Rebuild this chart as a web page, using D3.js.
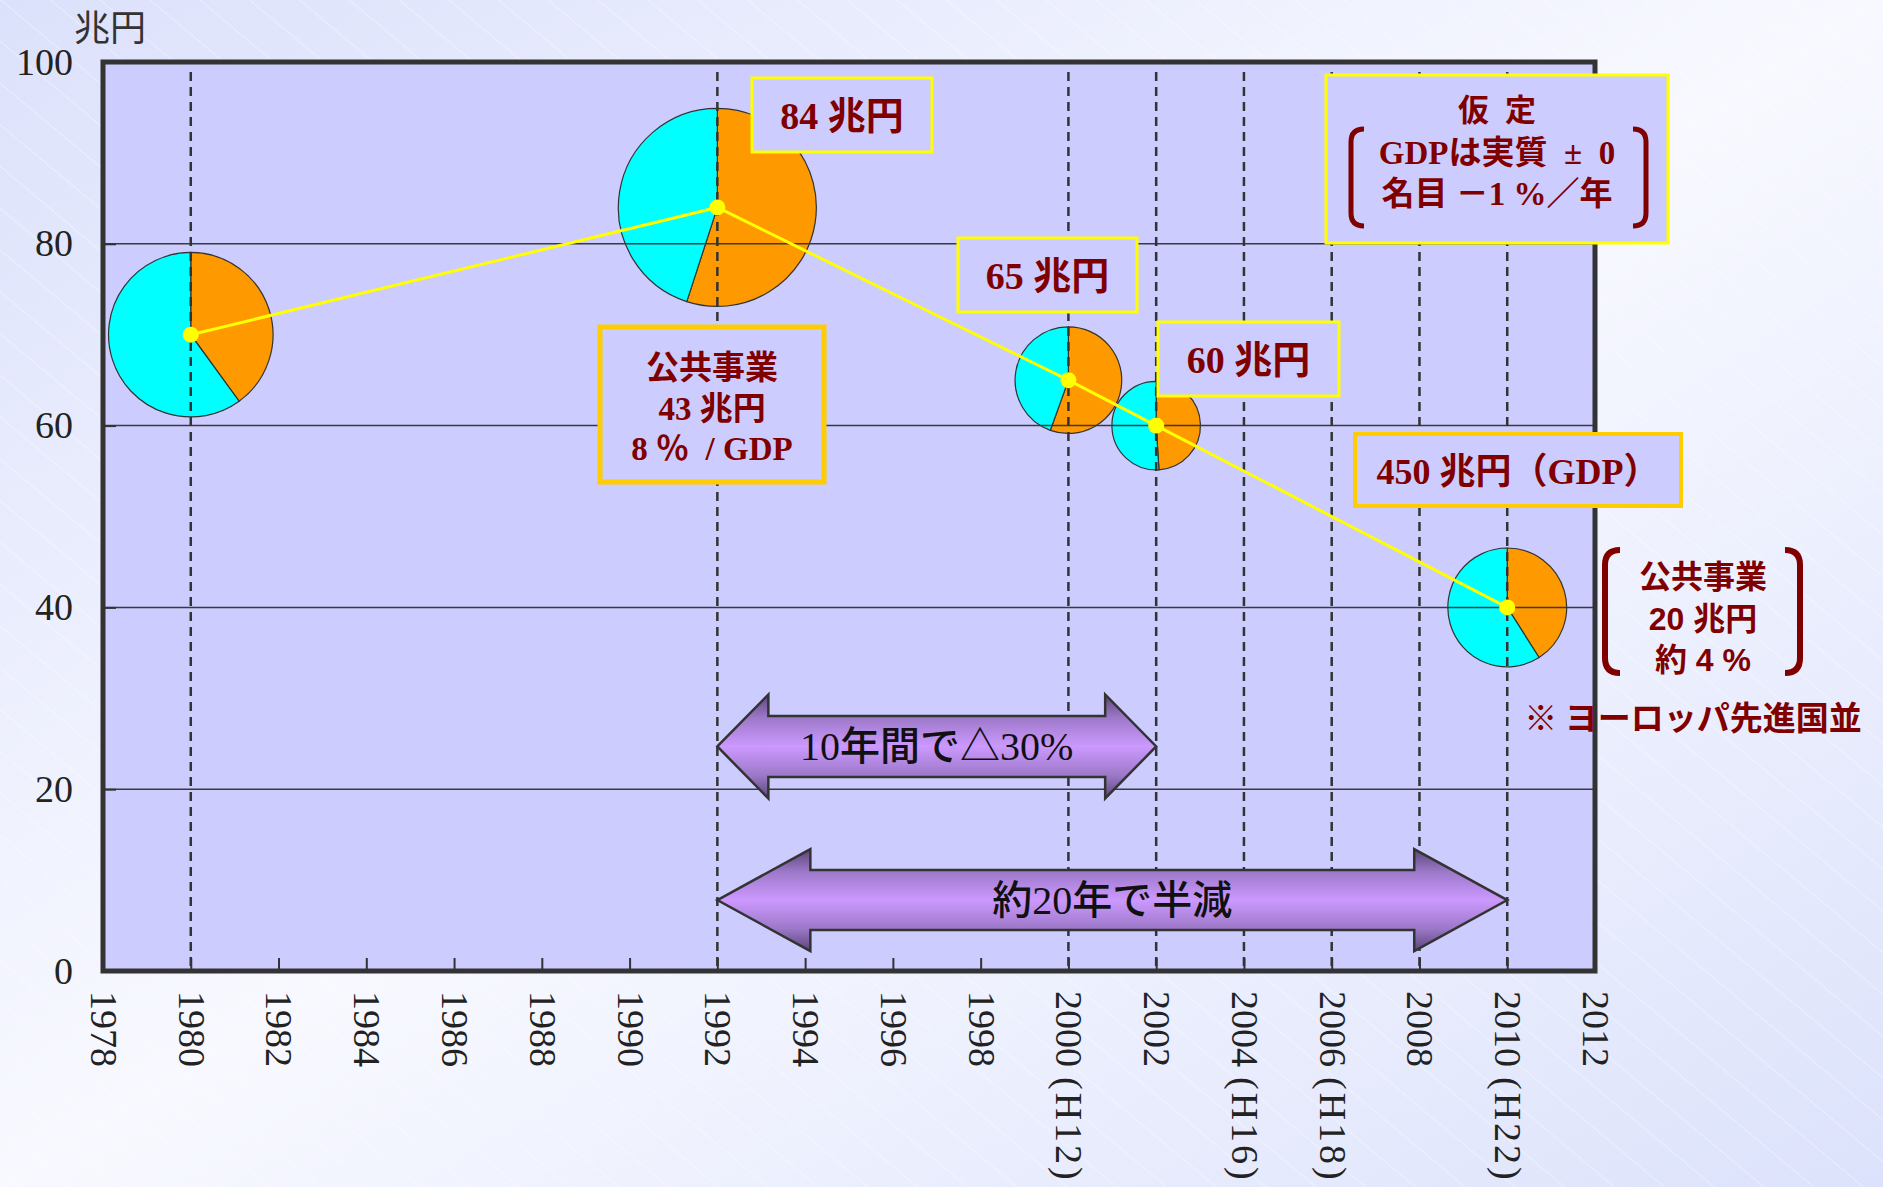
<html>
<head>
<meta charset="utf-8">
<title>公共事業費の推移</title>
<style>
  body { margin: 0; }
  svg { display: block; }
  .serif { font-family: "Liberation Serif", "Noto Sans CJK JP", serif; }
  .gothic { font-family: "Noto Sans CJK JP", sans-serif; }
  .sans { font-family: "Liberation Sans", "Noto Sans CJK JP", sans-serif; }
</style>
<script src="https://d3js.org/d3.v7.min.js"></script>
</head>
<body>
<svg id="chart"></svg>
<script>
// ---- data ----
let years = [1980, 1992, 2000, 2002, 2010];
let totals = [70, 84, 65, 60, 40];            // 兆円
let publicShare = [0.40, 0.55, 0.555, 0.49, 0.41]; // orange slice (公共事業)
let pieSize = [69, 100, 29, 20, 36];           // relative pie area
let valueLabelYears = [1992, 2000, 2002];

let xTicks = [1978, 1980, 1982, 1984, 1986, 1988, 1990, 1992, 1994, 1996,
              1998, 2000, 2002, 2004, 2006, 2008, 2010, 2012];
let eraYears = [2000, 2004, 2006, 2010];
let eraLabels = ['H12', 'H16', 'H18', 'H22'];
let yTicks = [0, 20, 40, 60, 80, 100];
let gridValues = [20, 40, 60, 80];
let guideYears = [1980, 1992, 2000, 2002, 2004, 2006, 2008, 2010];

let arrowFrom = [1992, 1992];
let arrowTo = [2002, 2010];
let arrowLevel = [24.7, 7.8];
let arrowText = ['10年間で△30%', '約20年で半減'];

// ---- layout ----
let W = 1883, H = 1187;
let plotLeft = 103, plotTop = 62, plotW = 1492, plotH = 909;

let svg = d3.select('#chart').attr('width', W).attr('height', H);
let defs = svg.append('defs');

let bg = defs.append('linearGradient').attr('id', 'bg')
  .attr('x1', 0).attr('y1', 0).attr('x2', 1).attr('y2', 1);
bg.append('stop').attr('offset', 0).attr('stop-color', '#dce1fb');
bg.append('stop').attr('offset', 0.5).attr('stop-color', '#f8f9ff');
bg.append('stop').attr('offset', 1).attr('stop-color', '#dce2fb');

let hatch = defs.append('pattern').attr('id', 'hatch')
  .attr('width', 32).attr('height', 32).attr('patternUnits', 'userSpaceOnUse')
  .attr('patternTransform', 'rotate(-50)');
hatch.append('line').attr('x1', 0).attr('y1', 0).attr('x2', 0).attr('y2', 32)
  .attr('stroke', '#ffffff').attr('stroke-width', 1.2).attr('opacity', 0.6);

let arrowGrad = defs.append('linearGradient').attr('id', 'arrowGrad')
  .attr('x1', 0).attr('y1', 0).attr('x2', 0).attr('y2', 1);
[[0, '#5a4678'], [0.22, '#9c78c8'], [0.5, '#cc99ff'], [0.78, '#9c78c8'], [1, '#5a4678']]
  .forEach(s => arrowGrad.append('stop').attr('offset', s[0]).attr('stop-color', s[1]));

svg.append('rect').attr('width', W).attr('height', H).attr('fill', 'url(#bg)');
svg.append('rect').attr('width', W).attr('height', H).attr('fill', 'url(#hatch)');

let x = d3.scaleLinear().domain([1978, 2012]).range([plotLeft, plotLeft + plotW]);
let y = d3.scaleLinear().domain([0, 100]).range([plotTop + plotH, plotTop]);
let r = d3.scaleSqrt().domain([0, 100]).range([0, 99]);

// plot background
svg.append('rect')
  .attr('x', plotLeft).attr('y', plotTop).attr('width', plotW).attr('height', plotH)
  .attr('fill', '#ccccff');

// pies
let pie = d3.pie().sort(null).value(d => d);
let pieColors = ['#ff9900', '#00ffff'];
years.forEach((yr, i) => {
  let arc = d3.arc().innerRadius(0).outerRadius(r(pieSize[i]));
  svg.append('g')
    .attr('transform', `translate(${x(yr)},${y(totals[i])})`)
    .selectAll('path')
    .data(pie([publicShare[i], 1 - publicShare[i]]))
    .join('path')
    .attr('d', arc)
    .attr('fill', (d, j) => pieColors[j])
    .attr('stroke', '#333')
    .attr('stroke-width', 1.2);
});

// gridlines
svg.append('g').selectAll('line').data(gridValues).join('line')
  .attr('x1', plotLeft).attr('x2', plotLeft + plotW)
  .attr('y1', d => y(d)).attr('y2', d => y(d))
  .attr('stroke', '#3a3a3a').attr('stroke-width', 1.5);

// dashed guides
svg.append('g').selectAll('line').data(guideYears).join('line')
  .attr('x1', d => x(d)).attr('x2', d => x(d))
  .attr('y1', plotTop + 10).attr('y2', plotTop + plotH)
  .attr('stroke', '#333').attr('stroke-width', 2.5)
  .attr('stroke-dasharray', '9,6');

// axes
let xAxis = svg.append('g')
  .attr('transform', `translate(0,${plotTop + plotH})`)
  .call(d3.axisBottom(x).tickValues(xTicks).tickSize(-13).tickFormat(d => String(d)));
xAxis.select('.domain').remove();
xAxis.selectAll('.tick line').attr('stroke', '#333').attr('stroke-width', 2);
xAxis.selectAll('.tick text')
  .attr('class', 'serif')
  .attr('x', 0).attr('y', 0).attr('dy', '0.33em')
  .attr('transform', 'translate(0,20) rotate(90)')
  .style('text-anchor', 'start')
  .style('font-size', '38px')
  .attr('fill', '#222')
  .each(function(d) {
    let k = eraYears.indexOf(d);
    if (k >= 0) {
      d3.select(this).append('tspan')
        .attr('dx', 10)
        .style('letter-spacing', '3px')
        .text(`(${eraLabels[k]})`);
    }
  });

let yAxis = svg.append('g')
  .attr('transform', `translate(${plotLeft},0)`)
  .call(d3.axisLeft(y).tickValues(yTicks).tickSize(-13).tickPadding(30));
yAxis.select('.domain').remove();
yAxis.selectAll('.tick line').attr('stroke', '#333').attr('stroke-width', 2);
yAxis.selectAll('.tick text')
  .attr('class', 'serif')
  .style('font-size', '38px')
  .attr('fill', '#222');

svg.append('text').attr('class', 'gothic')
  .attr('x', 74).attr('y', 28).attr('dy', '0.35em')
  .style('font-size', '36px').attr('fill', '#333')
  .text('兆円');

// yellow trend line + points
let pts = years.map((yr, i) => [x(yr), y(totals[i])]);
svg.append('path')
  .attr('d', d3.line()(pts))
  .attr('fill', 'none').attr('stroke', '#ffff00').attr('stroke-width', 3);
svg.append('g').selectAll('circle').data(pts).join('circle')
  .attr('cx', d => d[0]).attr('cy', d => d[1]).attr('r', 8)
  .attr('fill', '#ffff00');

// double arrows
let heads = [51, 93], headHalf = [52, 51], shaftHalf = [30.5, 30];
arrowText.forEach((t, i) => {
  let xl = x(arrowFrom[i]), xr = x(arrowTo[i]), cy = y(arrowLevel[i]);
  let h = heads[i], hh = headHalf[i], s = shaftHalf[i];
  let p = [[xl, cy], [xl + h, cy - hh], [xl + h, cy - s], [xr - h, cy - s], [xr - h, cy - hh],
           [xr, cy], [xr - h, cy + hh], [xr - h, cy + s], [xl + h, cy + s], [xl + h, cy + hh]];
  svg.append('path')
    .attr('d', 'M' + p.join('L') + 'Z')
    .attr('fill', 'url(#arrowGrad)')
    .attr('stroke', '#333').attr('stroke-width', 2.5)
    .attr('stroke-linejoin', 'miter');
  svg.append('text').attr('class', 'serif')
    .attr('x', (xl + xr) / 2).attr('y', cy).attr('dy', '0.35em')
    .style('text-anchor', 'middle').style('font-size', '40px').style('font-weight', 500)
    .attr('fill', '#111')
    .text(t);
});

// plot frame
svg.append('rect')
  .attr('x', plotLeft).attr('y', plotTop).attr('width', plotW).attr('height', plotH)
  .attr('fill', 'none').attr('stroke', '#333').attr('stroke-width', 5);

// ---- annotation boxes ----
let red = '#800000';
function box(bx, by, bw, bh, stroke, sw) {
  svg.append('rect').attr('x', bx).attr('y', by).attr('width', bw).attr('height', bh)
    .attr('fill', '#ccccff').attr('stroke', stroke).attr('stroke-width', sw);
}
function label(tx, ty, t, size, cls) {
  return svg.append('text').attr('class', cls || 'serif')
    .attr('x', tx).attr('y', ty).attr('dy', '0.35em')
    .style('text-anchor', 'middle').style('font-size', size + 'px')
    .style('font-weight', 'bold').attr('fill', red)
    .text(t);
}

// value boxes for 1992, 2000, 2002
let valueBoxes = [[752, 78, 180, 74], [958, 238, 179, 74], [1158, 322, 181, 74]];
valueLabelYears.forEach((yr, k) => {
  let b = valueBoxes[k];
  let v = totals[years.indexOf(yr)];
  box(b[0], b[1], b[2], b[3], '#ffff00', 3);
  label(b[0] + b[2] / 2, b[1] + b[3] / 2 + 1, `${v} 兆円`, 38);
});

// 公共事業 43兆円 box
box(600, 327, 224, 155, '#ffcc00', 5);
label(712, 367, '公共事業', 33);
label(712, 408, '43 兆円', 33);
label(712, 448, '8 ％\u2002/ GDP', 33);

// GDP box
box(1355, 434, 326, 72, '#ffcc00', 4);
label(1518, 471, '450 兆円（GDP）', 36);

// 仮定 box
box(1326, 75, 342, 168, '#ffff00', 3);
label(1505, 110, '仮定', 31).style('letter-spacing', '16px');
label(1497, 152, 'GDPは実質\u2002±\u20020', 33);
label(1497, 193, '名目 －1 %／年', 33);

function brackets(x1, x2, y1, y2, w, sw) {
  let c = w;
  svg.append('path')
    .attr('d', `M${x1 + w},${y1} Q${x1},${y1} ${x1},${y1 + c} L${x1},${y2 - c} Q${x1},${y2} ${x1 + w},${y2}`)
    .attr('fill', 'none').attr('stroke', red).attr('stroke-width', sw);
  svg.append('path')
    .attr('d', `M${x2 - w},${y1} Q${x2},${y1} ${x2},${y1 + c} L${x2},${y2 - c} Q${x2},${y2} ${x2 - w},${y2}`)
    .attr('fill', 'none').attr('stroke', red).attr('stroke-width', sw);
}
brackets(1351, 1646, 129, 226, 13, 5);

// right-hand note
brackets(1605, 1800, 550, 673, 15, 6);
label(1703, 577, '公共事業', 32, 'sans');
label(1703, 619, '20 兆円', 32, 'sans');
label(1703, 660, '約 4 %', 32, 'sans');
label(1693, 718, '※ ヨーロッパ先進国並', 33, 'gothic');
</script>
</body>
</html>
